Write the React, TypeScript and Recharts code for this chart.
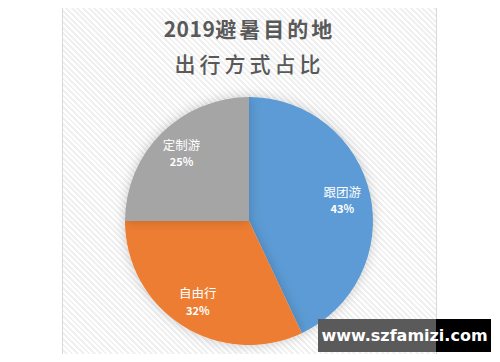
import { PieChart, Pie, Cell } from "recharts";

const categories = ["跟团游", "自由行", "定制游"];
const shares = [43, 32, 25];
const colors = ["#5B9BD5", "#ED7D31", "#A5A5A5"];
const titleYear = "2019";
const titleLines = ["避暑目的地", "出行方式占比"];

const data = categories.map((name, i) => ({ name, value: shares[i] }));

const RAD = Math.PI / 180;

const renderLabel = (p: any) => {
  const r = p.outerRadius * 0.77;
  const x = p.cx + r * Math.cos(-p.midAngle * RAD);
  const y = p.cy + r * Math.sin(-p.midAngle * RAD);
  return (
    <g>
      <text x={x} y={y - 7} textAnchor="middle" dominantBaseline="middle" fill="#fff" fontSize={12.5} fontFamily="'Noto Sans CJK SC', sans-serif">
        {p.name}
      </text>
      <text x={x} y={y + 10} textAnchor="middle" dominantBaseline="middle" fill="#fff" fontSize={11} fontWeight={700} fontFamily="'Noto Sans CJK SC', sans-serif">
        {p.value}%
      </text>
    </g>
  );
};

export default function App() {
  return (
    <div style={{ position: "relative", width: 500, height: 362, margin: -8, background: "#fff", overflow: "hidden" }}>
      {/* chart frame */}
      <div
        style={{
          position: "absolute",
          left: 62, top: -1, width: 373, height: 360,
          border: "1px solid #d9d9d9",
          background: "repeating-linear-gradient(45deg, #ffffff 0px, #ffffff 2px, #f0f0f0 2px, #f0f0f0 4px)",
        }}
      />
      <div style={{ position: "absolute", left: 62, width: 375, top: 11, textAlign: "center", color: "#595959", fontFamily: "'Noto Sans CJK SC', sans-serif", fontSize: 21, lineHeight: "35px" }}>
        <div style={{ fontWeight: 700, letterSpacing: 3 }}>
          <span style={{ letterSpacing: 0.5 }}>{titleYear}</span>{titleLines[0]}
        </div>
        <div style={{ fontWeight: 500, letterSpacing: 4 }}>{titleLines[1]}</div>
      </div>
      <div style={{ position: "absolute", left: 0, top: 0 }}>
        <PieChart width={500} height={362} margin={{ top: 0, right: 0, bottom: 0, left: 0 }}>
          <defs>
            <filter id="pieShadow" x="-20%" y="-20%" width="140%" height="140%">
              <feDropShadow dx="0" dy="0" stdDeviation="6" floodColor="#000" floodOpacity="0.2" />
            </filter>
          </defs>
          <Pie
            data={data}
            dataKey="value"
            nameKey="name"
            cx={249}
            cy={221}
            outerRadius={124}
            startAngle={90}
            endAngle={-270}
            stroke="none"
            label={renderLabel}
            labelLine={false}
            isAnimationActive={false}
            style={{ filter: "url(#pieShadow)" }}
          >
            {data.map((d, i) => (
              <Cell key={d.name} fill={colors[i]} />
            ))}
          </Pie>
        </PieChart>
      </div>
      {/* watermark */}
      <div style={{ position: "absolute", left: 318, top: 319, width: 173, height: 33, background: "#000" }} />
      <div style={{ position: "absolute", left: 318, top: 319, width: 118, height: 33, background: "#5a5a5a" }} />
      <div style={{ position: "absolute", left: 318, top: 319, width: 173, height: 33, lineHeight: "33px", textAlign: "center", color: "#fff", fontFamily: "'DejaVu Sans', sans-serif", fontWeight: 700, fontSize: 16 }}>
        www.szfamizi.com
      </div>
    </div>
  );
}
